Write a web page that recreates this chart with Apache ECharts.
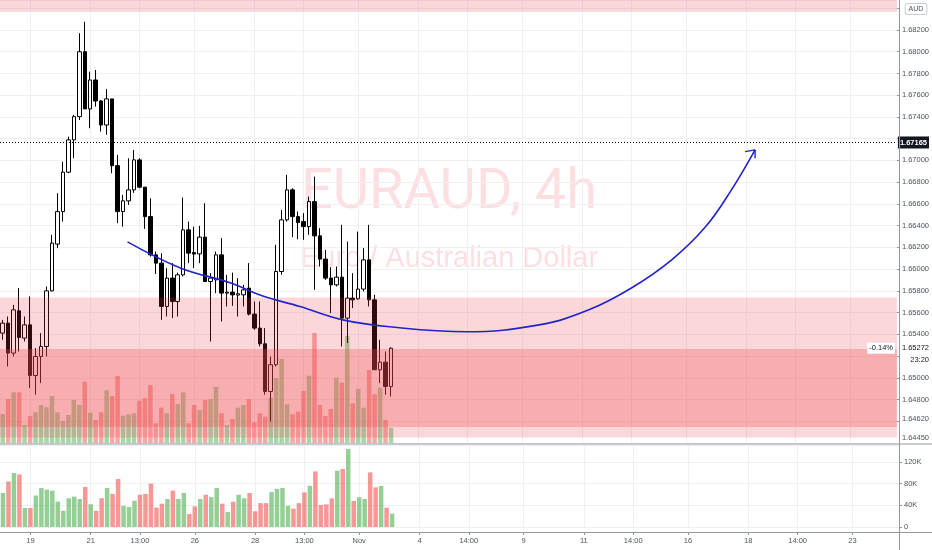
<!DOCTYPE html>
<html><head><meta charset="utf-8">
<script src="https://cdn.jsdelivr.net/npm/echarts@6/dist/echarts.min.js"></script>
<style>html,body{margin:0;padding:0;background:#fff}#c{width:932px;height:550px}</style>
</head><body><div id="c"></div>
<script>
// ---------- data ----------
const SLOTS = 164; // candle slots on the time scale (incl. future whitespace)
const tickIndex  = [5, 16, 25, 35, 46, 55, 65, 76, 85, 95, 106, 115, 125, 136, 145, 155];
const tickLabels = ['19', '21', '13:00', '26', '28', '13:00', 'Nov', '4', '14:00', '9', '11', '14:00', '16', '18', '14:00', '23'];

// [open, close, low, high]
const candles = [
  [1.65411, 1.65503, 1.65350, 1.65533], [1.65503, 1.65227, 1.65104, 1.65564],
  [1.65227, 1.65625, 1.65196, 1.65671], [1.65616, 1.65371, 1.65242, 1.65825],
  [1.65365, 1.65487, 1.65334, 1.65564], [1.65487, 1.65021, 1.64905, 1.65748],
  [1.65021, 1.65196, 1.64844, 1.65273], [1.65196, 1.65288, 1.64951, 1.65411],
  [1.65288, 1.65800, 1.65196, 1.65840], [1.65800, 1.66239, 1.65794, 1.66315],
  [1.66230, 1.66529, 1.66193, 1.66698], [1.66529, 1.66892, 1.66437, 1.66989],
  [1.66892, 1.67189, 1.66882, 1.67219], [1.67189, 1.67403, 1.67020, 1.67418],
  [1.67403, 1.68000, 1.67372, 1.68170], [1.68000, 1.67474, 1.67474, 1.68276],
  [1.67474, 1.67740, 1.67296, 1.67817], [1.67740, 1.67547, 1.67495, 1.67832],
  [1.67547, 1.67326, 1.67265, 1.67556], [1.67326, 1.67566, 1.67235, 1.67657],
  [1.67566, 1.66952, 1.66882, 1.67566], [1.66952, 1.66529, 1.66423, 1.67051],
  [1.66529, 1.66628, 1.66391, 1.66683], [1.66628, 1.66729, 1.66591, 1.67020],
  [1.66729, 1.67005, 1.66701, 1.67097], [1.67005, 1.66754, 1.66744, 1.67020],
  [1.66754, 1.66483, 1.66370, 1.66754], [1.66483, 1.66131, 1.66115, 1.66652],
  [1.66131, 1.66055, 1.65956, 1.66161], [1.66055, 1.65656, 1.65533, 1.66147],
  [1.65656, 1.65917, 1.65564, 1.66009], [1.65917, 1.65702, 1.65549, 1.66055],
  [1.65702, 1.65947, 1.65564, 1.65968], [1.65947, 1.66361, 1.65932, 1.66658],
  [1.66361, 1.66147, 1.66055, 1.66437], [1.66152, 1.66138, 1.66009, 1.66391],
  [1.66140, 1.66294, 1.66055, 1.66398], [1.66294, 1.65886, 1.65886, 1.66606],
  [1.65886, 1.65917, 1.65334, 1.65963], [1.65901, 1.66131, 1.65779, 1.66161],
  [1.66131, 1.65779, 1.65518, 1.66285], [1.65779, 1.65788, 1.65656, 1.65947],
  [1.65788, 1.65763, 1.65662, 1.65968], [1.65761, 1.65773, 1.65564, 1.65917],
  [1.65763, 1.65809, 1.65656, 1.65855], [1.65825, 1.65586, 1.65573, 1.66055],
  [1.65586, 1.65457, 1.65441, 1.65702], [1.65457, 1.65313, 1.65288, 1.65702],
  [1.65313, 1.64874, 1.64844, 1.65457], [1.64874, 1.65120, 1.64598, 1.65196],
  [1.65120, 1.65978, 1.65104, 1.66223], [1.65978, 1.66453, 1.65947, 1.66545],
  [1.66453, 1.66729, 1.66437, 1.66867], [1.66729, 1.66483, 1.66294, 1.66744],
  [1.66483, 1.66428, 1.66275, 1.66529], [1.66437, 1.66391, 1.66269, 1.66515],
  [1.66391, 1.66621, 1.66315, 1.66667], [1.66621, 1.66306, 1.65809, 1.66851],
  [1.66306, 1.66092, 1.66024, 1.66377], [1.66092, 1.65917, 1.65901, 1.66177],
  [1.65917, 1.65855, 1.65595, 1.66018], [1.65855, 1.65926, 1.65840, 1.66024],
  [1.65926, 1.65549, 1.65288, 1.66407], [1.65549, 1.65733, 1.65319, 1.66253],
  [1.65733, 1.65717, 1.65641, 1.65963], [1.65727, 1.65816, 1.65717, 1.66345],
  [1.65816, 1.66085, 1.65794, 1.66193], [1.66085, 1.65717, 1.65656, 1.66407],
  [1.65717, 1.65074, 1.65074, 1.65763], [1.65074, 1.65144, 1.64951, 1.65350],
  [1.65144, 1.64920, 1.64844, 1.65242], [1.64920, 1.65272, 1.64828, 1.65280]
];

// volume pane (thousands)
const volume = [
  62.7, 84, 99.5, 97, 35, 35, 58, 72, 69, 67,
  46.6, 30, 53, 56, 51.6, 73.7, 42, 30, 53, 72,
  61, 88.5, 39, 37, 48.5, 59.5, 61, 80, 36, 43,
  51.6, 67, 51.6, 62.7, 24, 38, 51.6, 59.5, 55, 72,
  43, 27.6, 46.6, 59.5, 53, 62.7, 29, 44, 44, 64.5,
  70, 72, 39, 33.7, 44, 63.8, 76, 102.5, 40.5, 41.7,
  52.8, 104, 107, 143.7, 48, 55, 51.6, 100.7, 73, 75.5,
  35.6, 24.5
];
// volume overlay inside the price pane (own scale)
const overlayVolume = [
  29, 44, 50.7, 50.7, 18, 27, 30.7, 38, 35.7, 47,
  30.7, 22, 28, 43, 38, 61.3, 30.3, 23, 30.7, 52.7,
  47, 67, 27.3, 28.7, 29.7, 42.3, 44.7, 58, 19.7, 35.3,
  29.7, 49, 39, 50.7, 19.7, 38, 33, 43, 44, 56.3,
  29.7, 18, 24, 35.3, 38, 44, 20.7, 29.7, 26.3, 45,
  65, 84, 38.7, 28.7, 31.3, 52, 67.3, 110, 38, 27,
  34, 65.3, 60.3, 107, 39.7, 54, 35.3, 73, 48.7, 55.3,
  23, 15.3
];

const priceTickLabels = ['1.64800', '1.65000', '1.65400', '1.65600', '1.65800', '1.66000', '1.66200',
  '1.66400', '1.66600', '1.66800', '1.67000', '1.67400', '1.67600', '1.67800', '1.68000', '1.68200'];
const volumeTickLabels = { 0: '0', 40: '40K', 80: '80K', 120: '120K' };

// drawn arc (slot index, price)
const curveX = [22.82, 32.48, 41.59, 47.42, 54.35, 62.19, 70.75, 84.78, 98.08, 107.19, 115.03, 122.32, 128.51, 133.25, 137.57];
const curveY = [1.66251, 1.66011, 1.65874, 1.65754, 1.65656, 1.65533, 1.65469, 1.65423, 1.65487, 1.65625, 1.65828, 1.66085, 1.66389, 1.66729, 1.67097];
const arrowX = [135.75, 137.57, 137.57];
const arrowY = [1.67081, 1.67097, 1.67020];

// rectangles (price bands)
const zoneHigh  = [1.6848, 1.65738, 1.65265];
const zoneLow   = [1.68366, 1.64450, 1.64548];
const zoneShade = [0, 0, 1];

const alertLevel = 1.67165;
const lastClose = 1.65272;
const lastChange = '-0.14%';
const countdown = '23:20';
const zoneLevels = [1.64620, 1.64450];

// ---------- chart ----------
const FONT = 'Liberation Sans, Arial, sans-serif';
const categories = Array.from({ length: SLOTS }, (_, i) => {
  const k = tickIndex.indexOf(i);
  return k >= 0 ? tickLabels[k] : '';
});
const isTick = (i) => tickIndex.indexOf(i) >= 0;
const up = candles.map(c => c[1] >= c[0]);
const shadeColors = ['rgba(242,54,69,0.2)', 'rgba(240,80,80,0.3)'];
const gridColor = '#eef0f4';
const axisText = '#4c525e';
const HIDDEN = { color: 'rgba(0,0,0,0)', width: 0 };

const chart = echarts.init(document.getElementById('c'), null, { renderer: 'canvas' });

const levelLabel = (v) => ({
  yAxis: v, lineStyle: HIDDEN,
  label: { show: true, position: 'end', distance: 5, formatter: v.toFixed(5), color: axisText, fontSize: 7.5, fontFamily: FONT }
});

const option = {
  animation: false,
  backgroundColor: '#ffffff',
  grid: [
    { left: -1, top: 0, width: 900, height: 443 },
    { left: -1, top: 445, width: 900, height: 82 }
  ],
  xAxis: [
    { type: 'category', gridIndex: 0, data: categories, boundaryGap: true,
      axisLine: { show: false, onZero: false }, axisTick: { show: false }, axisLabel: { show: false },
      splitLine: { show: true, interval: (i) => isTick(i), alignWithLabel: true, lineStyle: { color: gridColor, width: 1 } } },
    { type: 'category', gridIndex: 1, data: categories, boundaryGap: true, offset: 5,
      axisLine: { show: false, onZero: false },
      axisTick: { show: true, alignWithLabel: true, interval: (i) => isTick(i), length: 3, lineStyle: { color: '#9598a1' } },
      axisLabel: { show: true, interval: 0, fontSize: 7.5, color: axisText, margin: 5, fontFamily: FONT },
      splitLine: { show: true, interval: (i) => isTick(i), alignWithLabel: true, lineStyle: { color: gridColor, width: 1 } } },
    { type: 'value', gridIndex: 0, min: -0.5, max: SLOTS - 0.5, show: false, axisLine: { onZero: false } }
  ],
  yAxis: [
    { type: 'value', gridIndex: 0, position: 'right', min: 1.644, max: 1.68476, interval: 0.002,
      axisLine: { show: false, onZero: false },
      axisTick: { show: true, inside: false, length: 3, lineStyle: { color: '#9598a1' } },
      axisLabel: { fontSize: 7.5, color: axisText, margin: 5, fontFamily: FONT, showMaxLabel: false, showMinLabel: false,
        formatter: (v) => priceTickLabels.indexOf(v.toFixed(5)) >= 0 ? v.toFixed(5) : '' },
      splitLine: { show: true, lineStyle: { color: gridColor } } },
    { type: 'value', gridIndex: 0, position: 'right', min: 0, max: 443, show: false, axisLine: { onZero: false } },
    { type: 'value', gridIndex: 1, position: 'right', min: 0, max: 151.2, interval: 40,
      axisLine: { show: false, onZero: false },
      axisTick: { show: true, length: 3, lineStyle: { color: '#9598a1' } },
      axisLabel: { fontSize: 7.5, color: axisText, margin: 5, fontFamily: FONT, showMaxLabel: false,
        formatter: (v) => volumeTickLabels[Math.round(v)] !== undefined && Math.abs(v - Math.round(v)) < 1e-6 ? volumeTickLabels[Math.round(v)] : '' },
      splitLine: { show: true, lineStyle: { color: gridColor } } }
  ],
  series: [
    { name: 'overlayVolume', type: 'bar', xAxisIndex: 0, yAxisIndex: 1, barWidth: 4.5, z: 1, silent: true,
      data: overlayVolume.map((v, i) => ({ value: v, itemStyle: { color: up[i] ? 'rgba(76,175,80,0.5)' : 'rgba(239,83,80,0.5)' } })) },
    { name: 'EURAUD', type: 'candlestick', xAxisIndex: 0, yAxisIndex: 0, barWidth: 4, z: 3, clip: false,
      data: candles,
      itemStyle: { color: '#ffffff', color0: '#000000', borderColor: '#000000', borderColor0: '#000000', borderWidth: 1 },
      markLine: {
        silent: true, symbol: ['none', 'none'], animation: false, precision: 5,
        data: [
          { yAxis: alertLevel, lineStyle: { color: '#000000', type: [1, 2], width: 1 },
            label: { show: true, position: 'end', distance: 1, formatter: alertLevel.toFixed(5), color: '#ffffff',
              backgroundColor: '#131722', padding: [2, 2, 2, 2], fontSize: 7.5, fontWeight: 'bold', fontFamily: FONT } },
          { yAxis: lastClose, lineStyle: HIDDEN,
            label: { show: true, position: 'end', distance: 5, formatter: lastClose.toFixed(5), color: '#131722', fontSize: 7.5, fontFamily: FONT } },
          levelLabel(zoneLevels[0]),
          levelLabel(zoneLevels[1])
        ]
      } },
    { name: 'zones', type: 'custom', xAxisIndex: 2, yAxisIndex: 0, z: 4, silent: true,
      data: zoneHigh.map((h, i) => [h, zoneLow[i], zoneShade[i]]),
      encode: { x: 0, y: 0 },
      renderItem: (params, api) => {
        const cs = params.coordSys;
        const a = api.coord([0, api.value(0)])[1];
        const b = api.coord([0, api.value(1)])[1];
        const top = Math.max(cs.y, Math.min(a, b));
        const bot = Math.min(cs.y + cs.height, Math.max(a, b));
        return { type: 'rect', shape: { x: cs.x, y: top, width: cs.width, height: Math.max(0, bot - top) },
          style: { fill: shadeColors[api.value(2)] } };
      } },
    { name: 'arc', type: 'line', xAxisIndex: 2, yAxisIndex: 0, z: 6, silent: true, symbol: 'none', smooth: 0.4,
      data: curveX.map((x, i) => [x, curveY[i]]),
      lineStyle: { color: '#2323c8', width: 1.6 } },
    { name: 'arrow', type: 'line', xAxisIndex: 2, yAxisIndex: 0, z: 6, silent: true, symbol: 'none',
      data: arrowX.map((x, i) => [x, arrowY[i]]),
      lineStyle: { color: '#2323c8', width: 1.4 } },
    { name: 'volume', type: 'bar', xAxisIndex: 1, yAxisIndex: 2, barWidth: 4.5, z: 2, silent: true,
      data: volume.map((v, i) => ({ value: v, itemStyle: { color: up[i] ? 'rgba(76,175,80,0.6)' : 'rgba(239,83,80,0.6)' } })) }
  ],
  graphic: [
    { id: 'wm1', type: 'text', z: -10, silent: true,
      style: { text: 'EURAUD, 4h', x: 449, y: 194, align: 'center', verticalAlign: 'middle',
        font: '56px Roboto, "Liberation Sans", sans-serif', fill: 'rgba(242,54,69,0.16)' } },
    { id: 'wm2', type: 'text', z: -10, silent: true,
      style: { text: 'Euro / Australian Dollar', x: 449, y: 259, align: 'center', verticalAlign: 'middle',
        font: '29px "Liberation Sans", sans-serif', fill: 'rgba(242,54,69,0.16)' } },
    { id: 'sep1', type: 'line', z: 100, silent: true, shape: { x1: 0, y1: 444, x2: 932, y2: 444 }, style: { stroke: '#9598a1', lineWidth: 1 } },
    { id: 'sep2', type: 'line', z: 100, silent: true, shape: { x1: 0, y1: 532.5, x2: 932, y2: 532.5 }, style: { stroke: '#9598a1', lineWidth: 1 } },
    { id: 'vaxis', type: 'line', z: 100, silent: true, shape: { x1: 899.5, y1: 0, x2: 899.5, y2: 550 }, style: { stroke: '#9598a1', lineWidth: 1 } },
    { id: 'aud', type: 'text', z: 100, silent: true,
      style: { text: 'AUD', x: 916, y: 9, align: 'center', verticalAlign: 'middle', font: '7px "Liberation Sans", sans-serif',
        fill: '#4c525e', backgroundColor: '#ffffff', borderColor: '#c9ccd4', borderWidth: 1, borderRadius: 2, padding: [2, 3, 1, 3] } }
  ]
};
chart.setOption(option);

const py = chart.convertToPixel({ yAxisIndex: 0 }, lastClose);
chart.setOption({
  graphic: [
    { id: 'chg', type: 'text', z: 100, silent: true,
      style: { text: lastChange, x: 895, y: py, align: 'right', verticalAlign: 'middle', font: '7.5px "Liberation Sans", sans-serif',
        fill: '#131722', backgroundColor: '#ffffff', padding: [2, 2, 1, 2] } },
    { id: 'cd', type: 'text', z: 100, silent: true,
      style: { text: countdown, x: 929, y: py + 12, align: 'right', verticalAlign: 'middle', font: '7.5px "Liberation Sans", sans-serif',
        fill: '#131722' } }
  ]
});
</script>
</body></html>
